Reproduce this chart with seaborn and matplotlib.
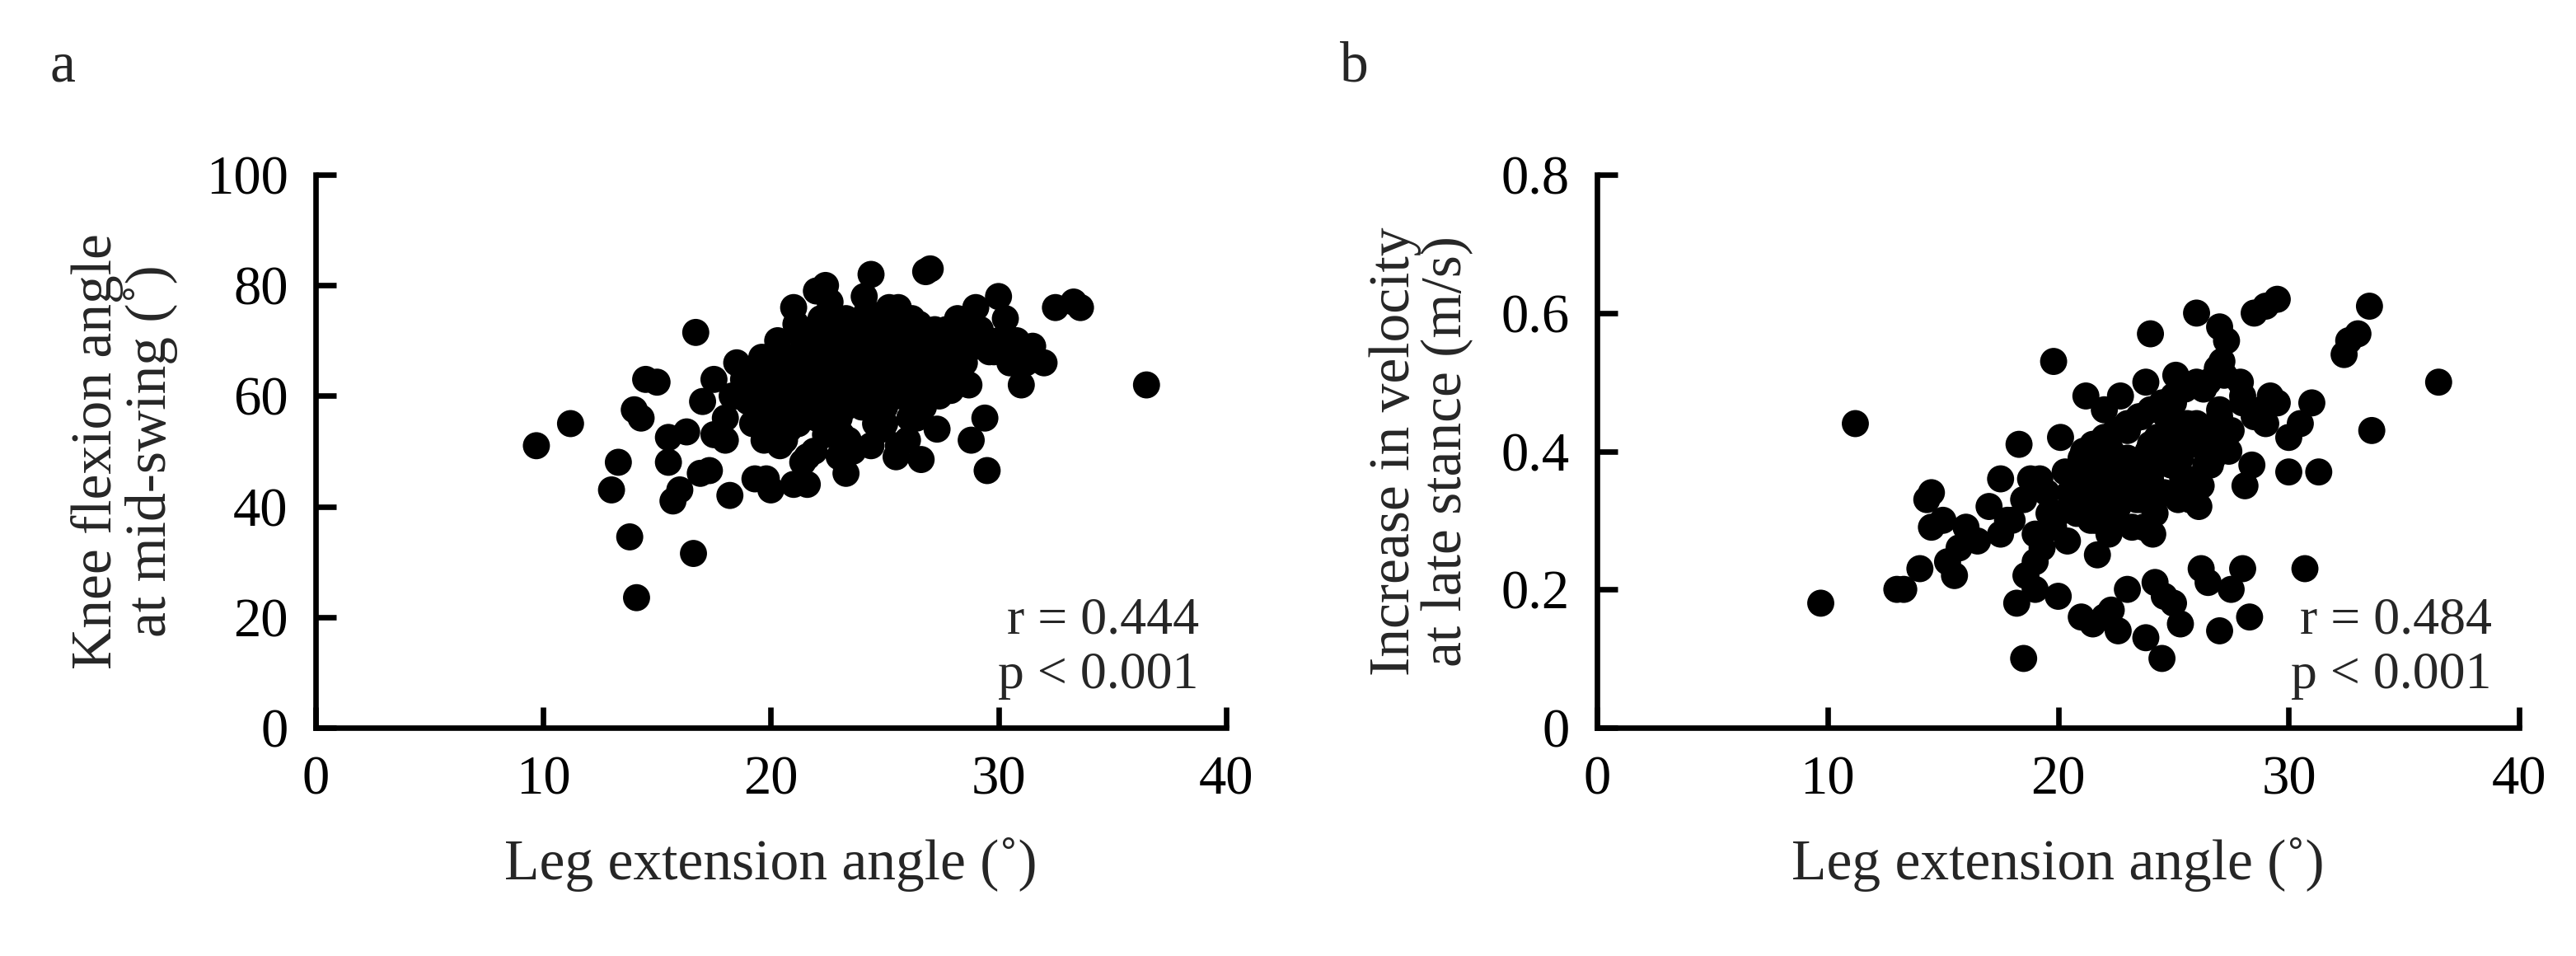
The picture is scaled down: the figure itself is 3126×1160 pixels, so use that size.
import matplotlib
matplotlib.use("Agg")
import matplotlib.pyplot as plt
import seaborn as sns
import pandas as pd

sns.set_theme(style="ticks")
plt.rcParams['font.family'] = ['Liberation Serif', 'DejaVu Serif']

# Panel a: leg extension angle vs knee flexion angle at mid-swing
a_x = [9.7, 11.2, 13.0, 13.3, 13.8, 14.1, 14.0, 14.3, 14.5, 15.0, 15.5, 15.5, 15.7, 16.0, 16.3, 16.6, 16.7,
       17.0, 16.9, 17.3, 17.5, 17.5, 18.0, 18.2, 18.5, 19.0, 19.3, 19.8, 20.0, 20.5, 21.0, 21.0, 21.6, 22.0,
       22.4, 23.0, 23.3, 24.0, 24.4, 25.0, 25.5, 26.0, 26.6, 26.8, 27.0, 27.3, 28.0, 29.0, 29.4, 29.5, 30.0,
       30.3, 31.0, 31.5, 32.0, 32.5, 33.3, 33.6, 36.5,
       18.5, 19.0, 19.5, 19.8, 20.0, 20.3, 20.6, 21.0, 21.2, 21.5, 21.8, 22.0, 22.3, 22.5, 22.8, 23.0, 23.3,
       23.5, 23.8, 24.0, 24.3, 24.5, 24.8, 25.0, 25.3, 25.5, 25.8, 26.0, 26.3, 26.5, 26.8, 27.0, 27.5, 28.0,
       28.5, 29.0, 19.2, 19.7, 20.2, 20.8, 21.3, 21.7, 22.2, 22.7, 23.2, 23.7, 24.2, 24.7, 25.2, 25.7, 26.2,
       26.7, 27.2, 27.7, 28.2, 28.7, 29.2, 30.0, 20.4, 21.1, 21.9, 22.6, 23.4, 24.1, 24.9, 25.6, 26.4, 27.1,
       27.9, 18.8, 20.9, 22.1, 23.6, 24.6, 25.9, 27.4, 28.4, 29.6, 30.5, 19.6, 21.4, 23.1, 24.4, 26.1, 28.8,
       20.0, 20.5, 21.0, 21.5, 22.0, 22.5, 23.0, 23.5, 24.0, 24.5, 25.0, 25.5, 26.0, 26.5, 27.0, 27.5,
       20.2, 20.7, 21.2, 21.7, 22.2, 22.7, 23.2, 23.7, 24.2, 24.7, 25.2, 25.7, 26.2, 26.7, 27.2, 27.7,
       20.5, 21.0, 21.5, 22.0, 22.5, 23.0, 23.5, 24.0, 24.5, 25.0, 25.5, 26.0, 26.5, 27.0, 28.3, 29.3,
       19.5, 20.8, 21.8, 22.8, 23.8, 24.8, 25.8, 26.8, 20.3, 21.3, 22.3, 23.3, 24.3, 25.3, 26.3, 27.3,
       19.0, 18.3, 18.0, 28.6, 29.8, 30.8, 31.2, 27.8, 20.6, 22.4, 24.6, 26.4, 21.6, 23.6, 25.6, 19.9]
a_y = [51, 55, 43, 48, 34.5, 23.5, 57.5, 56, 63, 62.5, 48, 52.5, 41, 43, 53.5, 31.5, 71.5,
       59, 46, 46.5, 63, 53, 52, 42, 66, 59, 45, 45, 43, 61, 44, 76, 44, 79,
       80, 49, 46, 70, 82, 55, 49, 52, 48.5, 82.5, 83, 54, 65, 76, 56, 46.5, 78,
       74, 62, 69, 66, 76, 77, 76, 62,
       60, 62, 58, 65, 56, 63, 60, 67, 55, 64, 61, 69, 57, 66, 62, 70, 58,
       65, 63, 71, 60, 67, 64, 72, 61, 68, 65, 70, 62, 73, 66, 69, 67, 70,
       66, 69, 55, 52, 68, 54, 71, 58, 74, 55, 73, 59, 75, 58, 76, 60, 74,
       58, 72, 63, 74, 62, 72, 70, 51, 73, 50, 77, 52, 78, 54, 76, 57, 64,
       61, 63, 59, 65, 61, 69, 63, 60, 70, 68, 66, 67, 48, 53, 51, 56, 52,
       58, 60, 62, 59, 63, 61, 64, 62, 65, 63, 66, 64, 67, 65, 68, 66,
       64, 66, 58, 68, 60, 69, 62, 70, 64, 71, 66, 72, 68, 70, 70, 72,
       55, 57, 59, 56, 58, 56, 60, 58, 60, 58, 62, 60, 63, 62, 68, 70,
       62, 65, 66, 67, 68, 69, 70, 62, 70, 72, 73, 74, 75, 74, 73, 68,
       64, 60, 56, 72, 68, 70, 66, 64, 52, 53, 55, 56, 49, 50, 51, 54]

# Panel b: leg extension angle vs increase in velocity at late stance
b_x = [9.7, 11.2, 13.0, 13.3, 14.0, 14.3, 14.5, 14.5, 15.0, 15.2, 15.5, 15.7, 16.0, 17.0, 17.5, 18.2, 18.5,
       19.0, 19.8, 20.0, 21.0, 21.5, 22.0, 22.6, 22.3, 23.0, 23.8, 24.2, 24.6, 24.5, 25.0, 25.3, 26.2, 26.5,
       27.0, 27.5, 28.0, 28.3, 30.0, 28.5, 29.0, 29.5, 27.0, 27.3, 26.0, 32.6, 32.4, 33.0, 33.5, 33.6, 36.5,
       31.0, 31.3, 30.7, 23.8, 24.0, 21.2, 22.0,
       18.0, 18.5, 19.0, 19.5, 20.0, 20.3, 20.6, 21.0, 21.3, 21.6, 22.0, 22.3, 22.6, 23.0, 23.3, 23.6, 24.0,
       24.3, 24.6, 25.0, 25.3, 25.6, 26.0, 26.3, 26.6, 27.0, 27.5, 28.0, 28.5, 29.0, 29.5, 30.0, 17.5, 18.8,
       19.3, 19.8, 20.4, 20.9, 21.4, 21.9, 22.4, 22.9, 23.4, 23.9, 24.4, 24.9, 25.4, 25.9, 26.4, 26.9, 27.4,
       27.9, 28.4, 29.2, 20.1, 21.1, 22.1, 23.1, 24.1, 25.1, 26.1, 27.1, 28.1, 19.2, 20.7, 22.7, 24.7, 26.7,
       21.7, 23.7, 25.7, 18.3, 30.5, 16.5, 17.8,
       20.5, 21.0, 21.5, 22.0, 22.5, 23.0, 23.5, 24.0, 24.5, 25.0, 25.5, 26.0, 26.5, 27.0,
       20.8, 21.3, 21.8, 22.3, 22.8, 23.3, 23.8, 24.3, 24.8, 25.3, 25.8, 26.3, 26.8,
       21.0, 21.5, 22.0, 22.5, 23.0, 23.5, 24.0, 24.5, 25.0, 25.5, 26.0, 26.5, 27.2, 28.0,
       19.6, 20.6, 21.6, 22.6, 23.6, 24.6, 25.6, 26.6, 22.2, 23.2, 24.2, 25.2, 26.2, 19.0, 18.6, 28.8]
b_y = [0.18, 0.44, 0.20, 0.20, 0.23, 0.33, 0.29, 0.34, 0.30, 0.24, 0.22, 0.26, 0.29, 0.32, 0.36, 0.18, 0.10,
       0.20, 0.53, 0.19, 0.16, 0.15, 0.16, 0.14, 0.17, 0.20, 0.13, 0.21, 0.19, 0.10, 0.18, 0.15, 0.23, 0.21,
       0.14, 0.20, 0.23, 0.16, 0.37, 0.60, 0.61, 0.62, 0.58, 0.56, 0.60, 0.56, 0.54, 0.57, 0.61, 0.43, 0.50,
       0.47, 0.37, 0.23, 0.50, 0.57, 0.48, 0.46,
       0.30, 0.33, 0.28, 0.34, 0.31, 0.37, 0.33, 0.39, 0.35, 0.41, 0.34, 0.40, 0.36, 0.43, 0.38, 0.45, 0.36,
       0.42, 0.40, 0.47, 0.39, 0.44, 0.42, 0.49, 0.41, 0.46, 0.43, 0.48, 0.45, 0.44, 0.47, 0.42, 0.28, 0.36,
       0.26, 0.29, 0.27, 0.32, 0.30, 0.37, 0.31, 0.35, 0.33, 0.40, 0.34, 0.38, 0.36, 0.43, 0.38, 0.52, 0.40,
       0.50, 0.38, 0.48, 0.42, 0.40, 0.30, 0.44, 0.28, 0.51, 0.32, 0.53, 0.35, 0.36, 0.37, 0.48, 0.45, 0.39,
       0.25, 0.29, 0.33, 0.41, 0.44, 0.27, 0.30,
       0.34, 0.36, 0.35, 0.38, 0.37, 0.39, 0.38, 0.41, 0.40, 0.42, 0.41, 0.44, 0.43, 0.45,
       0.31, 0.32, 0.33, 0.34, 0.35, 0.36, 0.37, 0.38, 0.39, 0.40, 0.41, 0.42, 0.43,
       0.39, 0.41, 0.42, 0.43, 0.44, 0.45, 0.46, 0.47, 0.48, 0.49, 0.50, 0.50, 0.51, 0.47,
       0.31, 0.33, 0.30, 0.32, 0.33, 0.34, 0.36, 0.38, 0.28, 0.29, 0.31, 0.33, 0.35, 0.24, 0.22, 0.46]

fig = plt.figure(figsize=(15.63, 5.8), dpi=200)
ax1 = fig.add_axes([0.1225, 0.239, 0.3535, 0.578])
ax2 = fig.add_axes([0.62, 0.239, 0.358, 0.578])

fs = 24
for ax, x, y, ylim, yticks, ylab, rtxt in [
        (ax1, a_x, a_y, (0, 100), [0, 20, 40, 60, 80, 100], "Knee flexion angle\nat mid-swing (˚)", "r = 0.444\np < 0.001"),
        (ax2, b_x, b_y, (0, 0.8), [0, 0.2, 0.4, 0.6, 0.8], "Increase in velocity\nat late stance (m/s)", "r = 0.484\np < 0.001")]:
    df = pd.DataFrame({"x": x, "y": y})
    sns.scatterplot(data=df, x="x", y="y", ax=ax, color="black", s=140, edgecolor="none", linewidth=0)
    ax.set_xlim(0, 40)
    ax.set_ylim(*ylim)
    ax.set_xticks([0, 10, 20, 30, 40])
    ax.set_yticks(yticks)
    if ax is ax2:
        ax.set_yticklabels(["0", "0.2", "0.4", "0.6", "0.8"])
    ax.set_xlabel("Leg extension angle (˚)", fontsize=fs + 1, labelpad=14)
    ax.set_ylabel(ylab, fontsize=fs + 1, labelpad=12, linespacing=1.0)
    for s in ["top", "right"]:
        ax.spines[s].set_visible(False)
    for s in ["left", "bottom"]:
        ax.spines[s].set_linewidth(2.4)
        ax.spines[s].set_color("black")
    ax.tick_params(direction="in", length=9, width=2.4, labelsize=fs, pad=12, colors="black")
    ax.text(0.97, 0.05, rtxt, transform=ax.transAxes, ha="right", va="bottom", fontsize=fs - 1, linespacing=1.2)

fig.text(0.0195, 0.915, "a", fontsize=fs + 1)
fig.text(0.52, 0.915, "b", fontsize=fs + 1)

fig.savefig("out.png", dpi=200, facecolor="white")
